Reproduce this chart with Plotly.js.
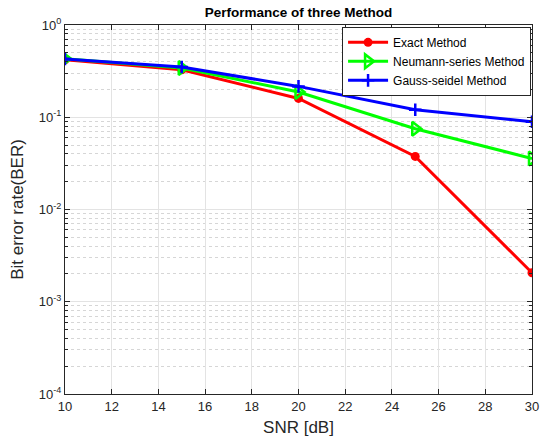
<!DOCTYPE html>
<html>
<head>
<meta charset="utf-8">
<script src="https://cdn.plot.ly/plotly-3.0.1.min.js"></script>
<style>html,body{margin:0;padding:0;background:#fff;}#chart{width:541px;height:446px;}</style>
</head>
<body>
<div id="chart"></div>
<script>
const snr = [10, 15, 20, 25, 30];
const exactBER = [0.42, 0.327, 0.16, 0.0376, 0.00206];
const neumannBER = [0.43, 0.342, 0.188, 0.075, 0.0357];
const gaussBER = [0.428, 0.35, 0.216, 0.1205, 0.0894];
const seriesNames = ["Exact Method", "Neumann-series Method", "Gauss-seidel Method"];
const xTicks = [10, 12, 14, 16, 18, 20, 22, 24, 26, 28, 30];
const yExponents = [-4, -3, -2, -1, 0];

const yTickVals = yExponents.map(e => Math.pow(10, e));
const yTickText = yExponents.map(e => "10<sup>" + e + "</sup>");
const yMinor = [];
for (let e = -4; e < 0; e++) for (let m = 2; m <= 9; m++) yMinor.push(m * Math.pow(10, e));

const traces = [
  {x: snr, y: exactBER, name: seriesNames[0], mode: 'lines+markers',
   line: {color: '#ff0000', width: 3},
   marker: {symbol: 'circle', size: 9, color: '#ff0000'}},
  {x: snr, y: neumannBER, name: seriesNames[1], mode: 'lines+markers',
   line: {color: '#00ff00', width: 3},
   marker: {symbol: 'triangle-right-open', size: 12, color: '#00ff00', line: {width: 2.5, color: '#00ff00'}}},
  {x: snr, y: gaussBER, name: seriesNames[2], mode: 'lines+markers',
   line: {color: '#0000ff', width: 3},
   marker: {symbol: 'cross-thin-open', size: 9, color: '#0000ff', line: {width: 2.5, color: '#0000ff'}}}
];

const layout = {
  width: 541, height: 446,
  paper_bgcolor: '#ffffff', plot_bgcolor: '#ffffff',
  margin: {l: 65, r: 9, t: 25, b: 52},
  font: {family: 'Liberation Sans, Arial, sans-serif', color: '#262626', size: 13},
  title: {text: '<b>Performance of three Method</b>', x: 0.5, xref: 'paper', xanchor: 'center',
          y: 1, yref: 'paper', yanchor: 'bottom', pad: {b: 8},
          font: {size: 13.5, color: '#000000'}},
  showlegend: true,
  legend: {x: 0.998, xanchor: 'right', y: 0.995, yanchor: 'top',
           bgcolor: '#ffffff', bordercolor: '#262626', borderwidth: 1,
           font: {size: 12, color: '#000000'}, tracegroupgap: 0, itemwidth: 40},
  xaxis: {
    range: [10, 30], tickmode: 'array', tickvals: xTicks,
    ticks: 'inside', ticklen: 5, tickcolor: '#262626', tickwidth: 1,
    showline: true, linecolor: '#262626', linewidth: 1, mirror: 'allticks',
    showgrid: true, gridcolor: '#e3e3e3', gridwidth: 1, zeroline: false,
    tickfont: {size: 13},
    title: {text: 'SNR [dB]', font: {size: 17}, standoff: 8}
  },
  yaxis: {
    type: 'log', range: [-4, 0], tickmode: 'array', tickvals: yTickVals, ticktext: yTickText,
    ticks: 'inside', ticklen: 5, tickcolor: '#262626', tickwidth: 1,
    showline: true, linecolor: '#262626', linewidth: 1, mirror: 'allticks',
    showgrid: true, gridcolor: '#e3e3e3', gridwidth: 1, zeroline: false,
    tickfont: {size: 13},
    minor: {tickmode: 'array', tickvals: yMinor, ticks: 'inside', ticklen: 3, tickcolor: '#262626',
            showgrid: true, gridcolor: '#d6d6d6', griddash: 'dot', gridwidth: 1},
    title: {text: 'Bit error rate(BER)', font: {size: 17}, standoff: 10}
  }
};

Plotly.newPlot('chart', traces, layout, {displayModeBar: false, staticPlot: true});
</script>
</body>
</html>
